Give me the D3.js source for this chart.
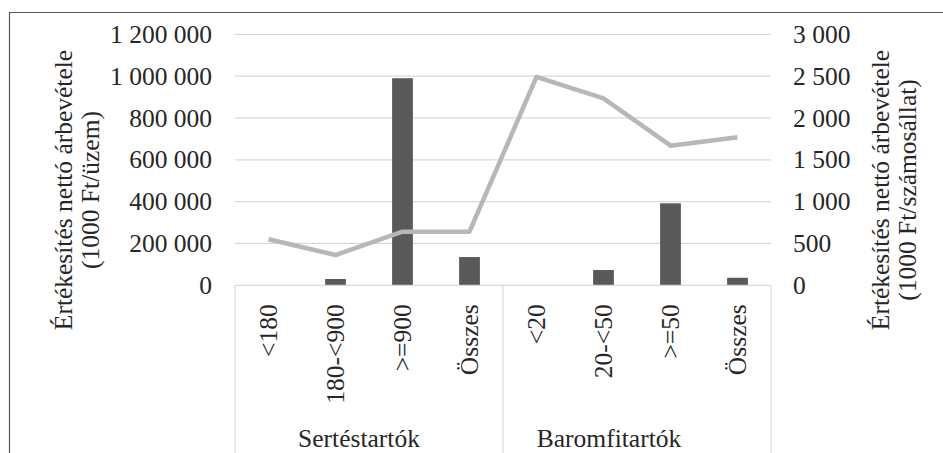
<!DOCTYPE html>
<html>
<head>
<meta charset="utf-8">
<script src="https://cdn.jsdelivr.net/npm/d3@7"></script>
<style>
  body { margin: 0; background: #fff; }
  svg text { font-family: "Liberation Serif", "Times New Roman", Tinos, "DejaVu Serif", serif; fill: #262626; }
</style>
</head>
<body>
<svg id="chart" width="943" height="453"></svg>
<script>
// category labels and their groups
var groups = ["Sertéstartók", "Baromfitartók"];
var categories = ["<180", "180-<900", ">=900", "Összes", "<20", "20-<50", ">=50", "Összes"];
var groupIndex = [0, 0, 0, 0, 1, 1, 1, 1];

// bars: 1000 Ft / üzem (left axis)
var revenuePerFarm = [0, 30000, 990000, 135000, 0, 73000, 392000, 36000];
// line: 1000 Ft / számosállat (right axis)
var revenuePerUnit = [550, 362, 641, 641, 2490, 2235, 1669, 1769];

var leftTicks = [0, 200000, 400000, 600000, 800000, 1000000, 1200000];
var rightTicks = [0, 500, 1000, 1500, 2000, 2500, 3000];

var leftTitle = ["Értékesítés nettó árbevétele", "(1000 Ft/üzem)"];
var rightTitle = ["Értékesítés nettó árbevétele", "(1000 Ft/számosállat)"];

var svg = d3.select("#chart");
var plot = { left: 235, right: 771, top: 34.3, bottom: 285.3 };
var fontSize = 25.5;
var serif = "'Liberation Serif', 'Times New Roman', Tinos, 'DejaVu Serif', serif";

var huFormat = d3.formatLocale({
  decimal: ",", thousands: "\u00a0", grouping: [3], currency: ["", ""]
}).format(",");

var keys = categories.map(function (c, i) { return i; });

var x = d3.scaleBand()
  .domain(keys)
  .range([plot.left, plot.right]);

var yLeft = d3.scaleLinear()
  .domain([0, 1200000])
  .range([plot.bottom, plot.top]);

var yRight = d3.scaleLinear()
  .domain([0, 3000])
  .range([plot.bottom, plot.top]);

// outer chart border
svg.append("path")
  .attr("d", "M9.5,453 V12.5 H943")
  .attr("fill", "none")
  .attr("stroke", "#595959")
  .attr("stroke-width", 1.2);

// gridlines
svg.append("g")
  .selectAll("line")
  .data(leftTicks.slice(1))
  .join("line")
  .attr("x1", plot.left)
  .attr("x2", plot.right)
  .attr("y1", function (d) { return yLeft(d); })
  .attr("y2", function (d) { return yLeft(d); })
  .attr("stroke", "#d9d9d9")
  .attr("stroke-width", 1.2);

// left axis labels
var leftAxis = svg.append("g")
  .attr("transform", "translate(" + (plot.left - 23) + ",0)")
  .call(d3.axisLeft(yLeft).tickValues(leftTicks).tickFormat(huFormat).tickSize(0).tickPadding(0));
leftAxis.attr("font-family", null).attr("font-size", null);
leftAxis.select(".domain").remove();
leftAxis.selectAll("text")
  .style("font-size", fontSize + "px")
  .style("font-family", serif)
  .attr("fill", "#262626");

// right axis labels
var rightAxis = svg.append("g")
  .attr("transform", "translate(" + (plot.right + 22) + ",0)")
  .call(d3.axisRight(yRight).tickValues(rightTicks).tickFormat(huFormat).tickSize(0).tickPadding(0));
rightAxis.attr("font-family", null).attr("font-size", null);
rightAxis.select(".domain").remove();
rightAxis.selectAll("text")
  .style("font-size", fontSize + "px")
  .style("font-family", serif)
  .attr("fill", "#262626");

// bars
var barWidth = x.bandwidth() * 0.31;
svg.append("g")
  .selectAll("rect")
  .data(revenuePerFarm)
  .join("rect")
  .attr("x", function (d, i) { return x(i) + (x.bandwidth() - barWidth) / 2; })
  .attr("y", function (d) { return yLeft(d); })
  .attr("width", barWidth)
  .attr("height", function (d) { return yLeft(0) - yLeft(d); })
  .attr("fill", "#595959");

// line
var line = d3.line()
  .x(function (d, i) { return x(i) + x.bandwidth() / 2; })
  .y(function (d) { return yRight(d); });

svg.append("path")
  .datum(revenuePerUnit)
  .attr("d", line)
  .attr("fill", "none")
  .attr("stroke", "#b7b7b7")
  .attr("stroke-width", 4.5)
  .attr("stroke-linejoin", "round");

// category axis box
var boxColor = "#d9d9d9";
svg.append("line")
  .attr("x1", plot.left).attr("x2", plot.right)
  .attr("y1", plot.bottom).attr("y2", plot.bottom)
  .attr("stroke", boxColor).attr("stroke-width", 1.2);

var groupEdges = [0, 4, 8].map(function (i) {
  return i < keys.length ? x(i) : plot.right;
});
svg.append("g")
  .selectAll("line")
  .data(groupEdges)
  .join("line")
  .attr("x1", function (d) { return d; })
  .attr("x2", function (d) { return d; })
  .attr("y1", plot.bottom)
  .attr("y2", 453)
  .attr("stroke", boxColor)
  .attr("stroke-width", 1.2);

// rotated category labels
svg.append("g")
  .selectAll("text")
  .data(categories)
  .join("text")
  .attr("transform", function (d, i) {
    return "translate(" + (x(i) + x.bandwidth() / 2) + "," + (plot.bottom + 19) + ") rotate(-90)";
  })
  .attr("dy", "0.35em")
  .attr("text-anchor", "end")
  .style("font-size", fontSize + "px")
  .style("font-family", serif)
  .text(function (d) { return d; });

// group labels
var groupShift = [-10, -28];
svg.append("g")
  .selectAll("text")
  .data(groups)
  .join("text")
  .attr("x", function (d, g) {
    var idx = keys.filter(function (k) { return groupIndex[k] === g; });
    var x0 = x(idx[0]);
    var x1 = x(idx[idx.length - 1]) + x.bandwidth();
    return (x0 + x1) / 2 + groupShift[g];
  })
  .attr("y", 447)
  .attr("text-anchor", "middle")
  .style("font-size", fontSize + "px")
  .style("font-family", serif)
  .text(function (d) { return d; });

// axis titles
function axisTitle(lines, baseX) {
  var t = svg.append("text")
    .attr("transform", "translate(" + baseX + ",190) rotate(-90)")
    .attr("text-anchor", "middle")
    .style("font-size", fontSize + "px")
    .style("font-family", serif);
  t.selectAll("tspan")
    .data(lines)
    .join("tspan")
    .attr("x", 0)
    .attr("y", function (d, i) { return i * 27; })
    .text(function (d) { return d; });
}
axisTitle(leftTitle, 72);
axisTitle(rightTitle, 889);
</script>
</body>
</html>
